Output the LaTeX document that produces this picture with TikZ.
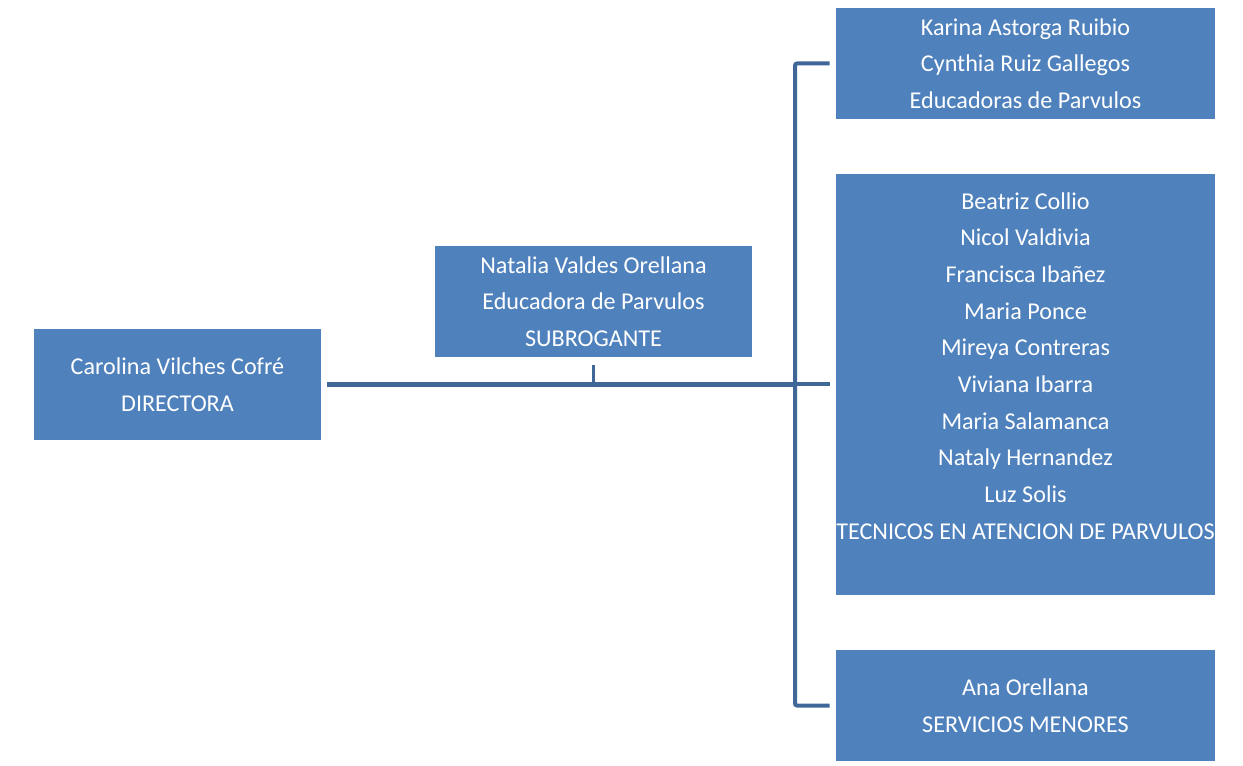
\documentclass[tikz,border=0pt]{standalone}
\usepackage{fontspec}
\setmainfont{Carlito}
\definecolor{boxblue}{HTML}{4F81BD}
\definecolor{lineblue}{HTML}{3F6797}
\tikzset{
  orgbox/.style={fill=boxblue, draw=none, inner sep=0pt, text=white, align=center,
    font=\fontsize{18.1pt}{27.5pt}\selectfont},
  mainline/.style={draw=lineblue, line width=4.1pt},
  branchline/.style={draw=lineblue, line width=3pt, rounded corners=1.5pt},
  stubline/.style={draw=lineblue, line width=2.7pt},
}
\begin{document}
\begin{tikzpicture}[x=0.75pt,y=-0.75pt]
\useasboundingbox (0,0) rectangle (1243,766);
\node[orgbox, minimum width=215.25pt, minimum height=83.25pt] (dir) at (177.5,384.5)
  {Carolina Vilches Cofré\\DIRECTORA};
\node[orgbox, minimum width=237.75pt, minimum height=83.25pt] (nat) at (593.5,301.5)
  {Natalia Valdes Orellana\\Educadora de Parvulos\\SUBROGANTE};
\node[orgbox, minimum width=284.25pt, minimum height=83.25pt] (kar) at (1025.5,63.5)
  {Karina Astorga Ruibio\\Cynthia Ruiz Gallegos\\Educadoras de Parvulos};
\node[orgbox, minimum width=284.25pt, minimum height=315.75pt] (bea) at (1025.5,384.5)
  {Beatriz Collio\\Nicol Valdivia\\Francisca Ibañez\\Maria Ponce\\Mireya Contreras\\Viviana Ibarra\\Maria Salamanca\\Nataly Hernandez\\Luz Solis\\TECNICOS EN ATENCION DE PARVULOS\\[-7.5pt]\strut};
\node[orgbox, minimum width=284.25pt, minimum height=83.25pt] (ana) at (1025.5,705.5)
  {Ana Orellana\\SERVICIOS MENORES};
\coordinate (bus) at (795,384.5);
\draw[mainline, shorten <=4.5pt] (dir.east) -- (bus);
\draw[stubline, shorten <=6pt] (nat.south) -- (nat.south |- bus);
\draw[branchline, shorten <=4.5pt, shorten >=4.5pt]
  (kar.west) -- (kar.west -| bus) -- (ana.west -| bus) -- (ana.west);
\draw[branchline, shorten >=4.5pt] (bus) -- (bea.west);
\end{tikzpicture}
\end{document}
